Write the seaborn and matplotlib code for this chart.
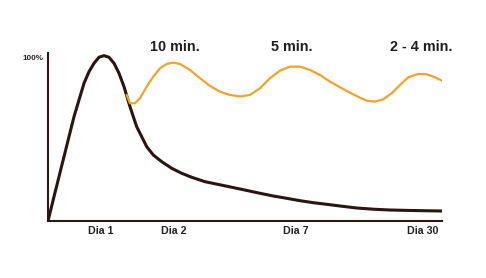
import matplotlib
matplotlib.use("Agg")
import matplotlib.pyplot as plt
import seaborn as sns
import pandas as pd

# Forgetting curve: retention (%) vs time (arbitrary units 0..100)
forget_x = [0, 1.52, 2.79, 4.06, 5.33, 6.60, 7.87, 9.14, 10.41, 11.68,
            12.94, 14.21, 15.48, 16.75, 18.02, 19.29, 20.81, 21.65, 22.51, 23.78,
            25.05, 26.73, 28.86, 31.40, 33.93, 36.47, 39.85, 44.49, 48.73, 53.81,
            57.18, 60.58, 63.96, 67.34, 70.74, 74.11, 78.35, 82.56, 86.80, 91.04,
            95.25, 100]
forget_y = [0, 14.70, 26.80, 38.90, 51.00, 63.10, 73.20, 83.30, 90.32, 95.40,
            99.03, 100, 99.03, 95.40, 89.35, 81.25, 69.15, 63.10, 57.05, 51.00,
            44.95, 39.93, 35.87, 31.88, 28.86, 26.44, 23.77, 21.48, 19.36, 16.76,
            15.12, 13.73, 12.28, 11.07, 10.10, 9.07, 7.86, 7.14, 6.65, 6.41,
            6.23, 6.05]

# Retention with spaced reviews
review_x = [19.97, 20.81, 22.08, 23.35, 25.05, 26.73, 28.43, 30.13, 31.80, 33.50,
            36.04, 38.58, 41.12, 43.65, 46.19, 48.73, 51.27, 53.81, 56.35, 58.88,
            61.42, 63.96, 66.50, 69.04, 71.57, 74.11, 76.65, 79.19, 80.89, 82.99,
            85.10, 87.23, 89.34, 91.45, 93.99, 96.12, 98.22, 100]
review_y = [76.22, 71.20, 71.20, 74.23, 81.25, 87.30, 92.38, 94.98, 95.77, 94.98,
            91.35, 86.33, 81.67, 78.22, 76.22, 75.32, 76.22, 80.28, 86.33, 90.93,
            93.35, 93.35, 91.35, 88.32, 84.27, 80.88, 77.62, 74.53, 72.78, 72.17,
            73.62, 77.25, 82.27, 86.93, 88.93, 88.75, 86.93, 84.88]

interval_labels = ["10 min.", "5 min.", "2 - 4 min."]
interval_x = [32.1, 61.9, 94.75]

tick_pos = [13.5, 31.9, 62.8, 95.1]
tick_labels = ["Dia 1", "Dia 2", "Dia 7", "Dia 30"]

sns.set_style("white")
plt.rcParams['font.family'] = ['Liberation Sans', 'DejaVu Sans']

fig = plt.figure(figsize=(4.86, 2.78), dpi=100)
ax = fig.add_axes([48/486, 57/278, 394/486, 168/278])

df_f = pd.DataFrame({"x": forget_x, "y": forget_y})
df_r = pd.DataFrame({"x": review_x, "y": review_y})
sns.lineplot(data=df_f, x="x", y="y", ax=ax, color="#2a1510", linewidth=2.2,
             sort=False, estimator=None, solid_joinstyle="round", solid_capstyle="round")
sns.lineplot(data=df_r, x="x", y="y", ax=ax, color="#f2a328", linewidth=1.6,
             sort=False, estimator=None, solid_joinstyle="round", solid_capstyle="round")

ax.set_xlim(0, 100)
ax.set_ylim(0, 101.6)
for s in ["top", "right"]:
    ax.spines[s].set_visible(False)
for s in ["left", "bottom"]:
    ax.spines[s].set_color("#2a1a16")
    ax.spines[s].set_linewidth(1.5)

ax.set_xticks(tick_pos)
ax.set_xticklabels(tick_labels, fontsize=7.7, fontweight="bold", color="#222222")
ax.set_yticks([98.9])
ax.set_yticklabels(["100%"], fontsize=5.8, fontweight="bold", color="#222222")
ax.tick_params(axis="x", length=0, pad=3.5)
ax.tick_params(axis="y", length=0, pad=3.4)
ax.set_xlabel("")
ax.set_ylabel("")

for lab, xv in zip(interval_labels, interval_x):
    ax.text(xv, 103.0, lab, ha="center", va="baseline", fontsize=10.4,
            fontweight="bold", color="#1e1e1e", clip_on=False)

fig.savefig("out.png", dpi=100)
